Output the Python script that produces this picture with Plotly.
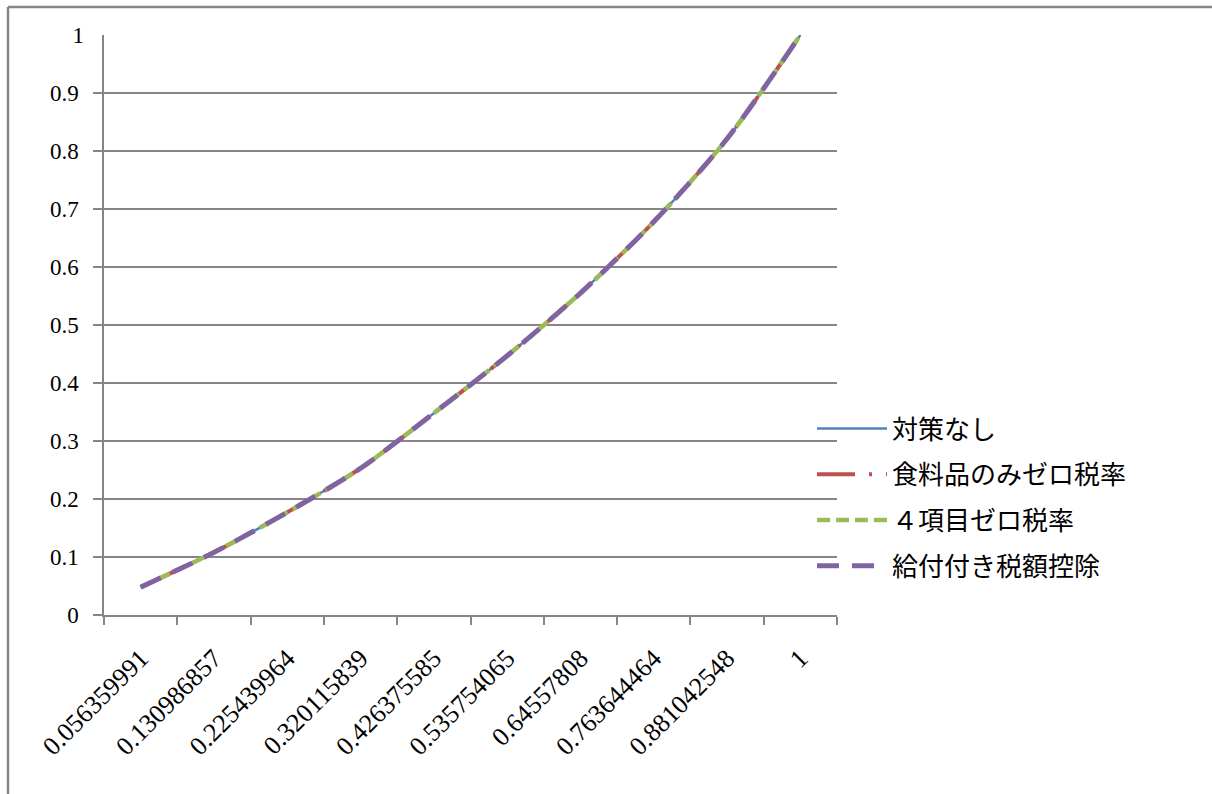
import plotly.graph_objects as go

# Category labels (cumulative share) along the horizontal axis
categories = ["0.056359991", "0.130986857", "0.225439964", "0.320115839",
              "0.426375585", "0.535754065", "0.64557808", "0.763644464",
              "0.881042548", "1"]

# Cumulative shares for each policy scenario
no_measure = [0.048, 0.108, 0.177, 0.253, 0.348, 0.447, 0.555, 0.678, 0.821, 1.0]
food_zero = [0.048, 0.108, 0.177, 0.253, 0.348, 0.447, 0.555, 0.678, 0.821, 1.0]
four_items_zero = [0.048, 0.108, 0.177, 0.253, 0.348, 0.447, 0.555, 0.678, 0.821, 1.0]
refundable_credit = [0.048, 0.108, 0.177, 0.253, 0.348, 0.447, 0.555, 0.678, 0.821, 1.0]

series_names = ["対策なし", "食料品のみゼロ税率", "４項目ゼロ税率", "給付付き税額控除"]

W, H = 1212, 794
L, R, T, B = 104, 837, 35, 615  # plot area edges in pixels

fig = go.Figure()

styles = [
    (no_measure, "#4F81BD", 2.5, "solid"),
    (food_zero, "#C0504D", 4, "38px,14px,3px,14px"),
    (four_items_zero, "#9BBB59", 4.5, "13px,6px"),
    (refundable_credit, "#8064A2", 5, "22px,13px"),
]
for i, ((vals, color, width, dash), name) in enumerate(zip(styles, series_names)):
    fig.add_trace(go.Scatter(
        x=categories, y=vals, mode="lines", name=name,
        line=dict(color=color, width=width, dash=dash, shape="spline", smoothing=0.8),
        legendgroup=f"g{i}",
    ))

# secondary axis only to carry the top "1" label without a gridline
fig.add_trace(go.Scatter(x=[categories[0]], y=[None], yaxis="y2",
                         showlegend=False, hoverinfo="skip"))

grid = "#868686"
serif = "Liberation Serif"

fig.update_layout(
    width=W, height=H,
    margin=dict(l=L, r=W - R, t=T, b=H - B),
    paper_bgcolor="white", plot_bgcolor="white",
    showlegend=True,
    legend=dict(
        x=(812 - L) / (R - L), xanchor="left",
        y=(B - 405) / (B - T), yanchor="top",
        font=dict(family="Noto Sans CJK JP", size=26, color="black"),
        itemwidth=70, traceorder="grouped", tracegroupgap=9,
        bgcolor="rgba(0,0,0,0)",
    ),
    xaxis=dict(
        type="category", range=[-0.5, 9.5],
        tickson="boundaries", ticks="outside", ticklen=8, tickcolor=grid, tickwidth=1.5,
        showline=True, linecolor=grid, linewidth=1.5,
        showgrid=False, zeroline=False,
        tickangle=-45, ticklabelstandoff=16,
        tickfont=dict(family=serif, size=26, color="black"),
    ),
    yaxis=dict(
        range=[0, 1],
        tickvals=[0, 0.1, 0.2, 0.3, 0.4, 0.5, 0.6, 0.7, 0.8, 0.9],
        ticktext=["0", "0.1", "0.2", "0.3", "0.4", "0.5", "0.6", "0.7", "0.8", "0.9"],
        ticks="outside", ticklen=9, tickcolor=grid, tickwidth=1.5,
        showline=True, linecolor=grid, linewidth=1.5,
        showgrid=True, gridcolor=grid, gridwidth=1.5, zeroline=False,
        ticklabelstandoff=10,
        tickfont=dict(family=serif, size=23, color="black"),
    ),
    yaxis2=dict(
        overlaying="y", matches="y", side="left",
        tickvals=[1], ticktext=["1"], ticks="", showgrid=False, showline=False,
        zeroline=False, ticklabelstandoff=19,
        tickfont=dict(family=serif, size=23, color="black"),
    ),
)

# chart frame (top and left edges)
def px_x(p):
    return (p - L) / (R - L)

def px_y(p):
    return (B - p) / (B - T)

fig.add_shape(type="line", xref="paper", yref="paper",
              x0=px_x(8), x1=px_x(1215), y0=px_y(7), y1=px_y(7),
              line=dict(color=grid, width=2.5))
fig.add_shape(type="line", xref="paper", yref="paper",
              x0=px_x(8), x1=px_x(8), y0=px_y(7), y1=px_y(800),
              line=dict(color=grid, width=2.5))

fig.write_html("out.html")
